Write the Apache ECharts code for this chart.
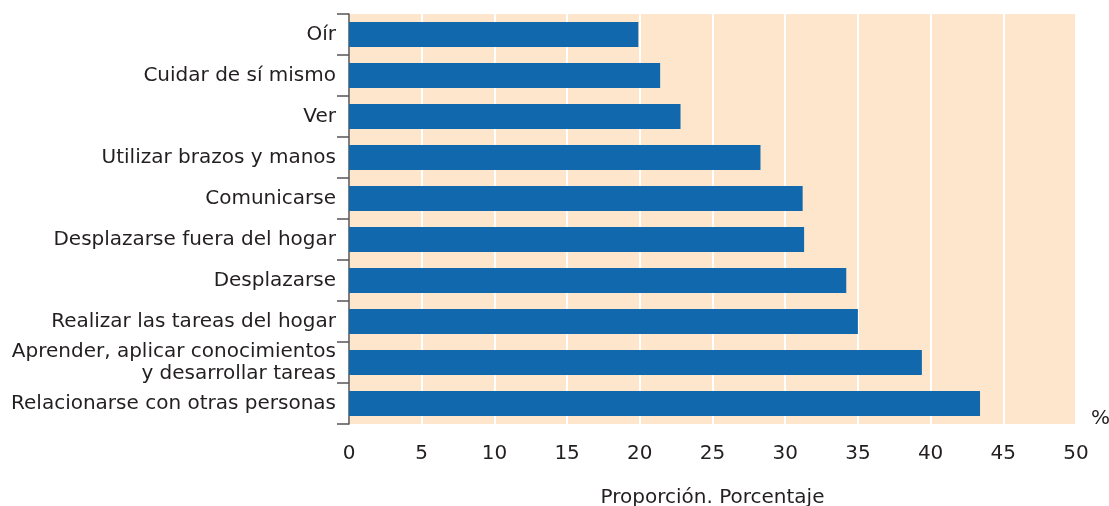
<!DOCTYPE html>
<html>
<head>
<meta charset="utf-8">
<script src="https://cdn.jsdelivr.net/npm/echarts@6/dist/echarts.min.js"></script>
<style>
  html, body { margin: 0; padding: 0; background: #fff; }
  #chart { width: 1109px; height: 506px; }
</style>
</head>
<body>
<div id="chart"></div>
<script>
// categorias (de arriba a abajo)
const categorias = [
    'Oír',
    'Cuidar de sí mismo',
    'Ver',
    'Utilizar brazos y manos',
    'Comunicarse',
    'Desplazarse fuera del hogar',
    'Desplazarse',
    'Realizar las tareas del hogar',
    'Aprender, aplicar conocimientos\ny desarrollar tareas',
    'Relacionarse con otras personas'
];
const porcentajes = [19.9, 21.4, 22.8, 28.3, 31.2, 31.3, 34.2, 35.0, 39.4, 43.4];
const ejeMin = 0;
const ejeMax = 50;
const ejeIntervalo = 5;

const fuente = '"DejaVu Sans", "Liberation Sans", sans-serif';
const colorTexto = '#231f20';

const chart = echarts.init(document.getElementById('chart'));
chart.setOption({
    animation: false,
    grid: {
        left: 349,
        right: 33,
        top: 14,
        bottom: 82,
        outerBoundsMode: 'none',
        containLabel: false,
        show: true,
        backgroundColor: '#fde6cc',
        borderWidth: 0
    },
    xAxis: {
        type: 'value',
        min: ejeMin,
        max: ejeMax,
        interval: ejeIntervalo,
        name: 'Proporción. Porcentaje',
        nameLocation: 'middle',
        nameGap: 64,
        nameTextStyle: { fontFamily: fuente, fontSize: 20, color: colorTexto },
        axisLine: { show: false },
        axisTick: { show: false },
        axisLabel: { margin: 20, fontFamily: fuente, fontSize: 20, color: colorTexto },
        splitLine: { show: true, lineStyle: { color: '#ffffff', width: 2 } }
    },
    yAxis: {
        type: 'category',
        data: categorias,
        inverse: true,
        axisLine: { show: true, lineStyle: { color: '#555555', width: 1.5 } },
        axisTick: { show: true, length: 12, lineStyle: { color: '#555555', width: 1.5 } },
        axisLabel: {
            margin: 13,
            fontFamily: fuente,
            fontSize: 20,
            lineHeight: 22,
            color: colorTexto,
            align: 'right'
        }
    },
    series: [{
        type: 'bar',
        data: porcentajes,
        barCategoryGap: '39%',
        itemStyle: { color: '#1168ad' }
    }],
    graphic: [{
        type: 'text',
        left: 1091,
        top: 409,
        style: { text: '%', font: '20px ' + fuente, fill: colorTexto }
    }]
});
</script>
</body>
</html>
